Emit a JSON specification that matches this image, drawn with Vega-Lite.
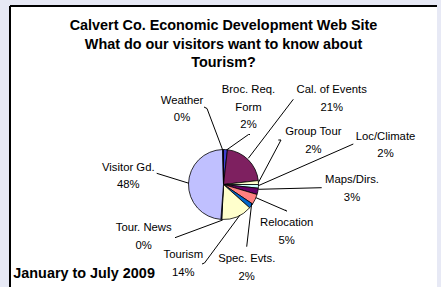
{
  "$schema": "https://vega.github.io/schema/vega-lite/v6.json",
  "width": 427,
  "height": 357,
  "autosize": "none",
  "padding": {"left": 10, "top": 6, "right": 4, "bottom": -76},
  "background": "#e7e9f5",
  "config": {
    "view": {"fill": "white", "stroke": null},
    "font": "Liberation Sans",
    "title": {"font": "Liberation Sans"}
  },
  "title": {
    "text": ["Calvert Co. Economic Development Web Site", "What do our visitors want to know about", "Tourism?"],
    "fontSize": 14.4,
    "fontWeight": "bold",
    "color": "black",
    "lineHeight": 18.5,
    "anchor": "middle",
    "offset": -64.5
  },
  "datasets": {
    "slices": [
      {"category": "Broc. Req. Form", "pct": 1.8, "order": 1},
      {"category": "Cal. of Events", "pct": 21.4, "order": 2},
      {"category": "Group Tour", "pct": 1.8, "order": 3},
      {"category": "Loc/Climate", "pct": 1.7, "order": 4},
      {"category": "Maps/Dirs.", "pct": 2.9, "order": 5},
      {"category": "Relocation", "pct": 4.8, "order": 6},
      {"category": "Spec. Evts.", "pct": 2.2, "order": 7},
      {"category": "Tourism", "pct": 14.2, "order": 8},
      {"category": "Tour. News", "pct": 0.4, "order": 9},
      {"category": "Visitor Gd.", "pct": 48.4, "order": 10},
      {"category": "Weather", "pct": 0.4, "order": 11}
    ],
    "labels": [
      {"category": "Weather", "text": ["Weather", "0%"], "lx": -41.5, "ly": -83.8},
      {"category": "Broc. Req. Form", "text": ["Broc. Req.", "Form", "2%"], "lx": 25, "ly": -94.5},
      {"category": "Cal. of Events", "text": ["Cal. of Events", "21%"], "lx": 108.2, "ly": -94.5},
      {"category": "Group Tour", "text": ["Group Tour", "2%"], "lx": 89.8, "ly": -52.2},
      {"category": "Loc/Climate", "text": ["Loc/Climate", "2%"], "lx": 162, "ly": -47.8},
      {"category": "Maps/Dirs.", "text": ["Maps/Dirs.", "3%"], "lx": 128.5, "ly": -4.5},
      {"category": "Relocation", "text": ["Relocation", "5%"], "lx": 63.2, "ly": 38.8},
      {"category": "Spec. Evts.", "text": ["Spec. Evts.", "2%"], "lx": 23.2, "ly": 74.5},
      {"category": "Tourism", "text": ["Tourism", "14%"], "lx": -40.2, "ly": 70.5},
      {"category": "Tour. News", "text": ["Tour. News", "0%"], "lx": -79.8, "ly": 43.8},
      {"category": "Visitor Gd.", "text": ["Visitor Gd.", "48%"], "lx": -95.2, "ly": -16.8}
    ],
    "leaders": [
      {"category": "Weather", "seq": 0, "lx": -19.5, "ly": -77.5},
      {"category": "Weather", "seq": 1, "lx": -16.5, "ly": -76},
      {"category": "Weather", "seq": 2, "lx": -0.8, "ly": -34.5},
      {"category": "Broc. Req. Form", "seq": 0, "lx": 26.5, "ly": -50},
      {"category": "Broc. Req. Form", "seq": 1, "lx": 25, "ly": -50},
      {"category": "Broc. Req. Form", "seq": 2, "lx": 3, "ly": -34.5},
      {"category": "Cal. of Events", "seq": 0, "lx": 69.8, "ly": -85.2},
      {"category": "Cal. of Events", "seq": 1, "lx": 24.8, "ly": -26.2},
      {"category": "Group Tour", "seq": 0, "lx": 54.8, "ly": -44.5},
      {"category": "Group Tour", "seq": 1, "lx": 57.5, "ly": -44.5},
      {"category": "Group Tour", "seq": 2, "lx": 34.8, "ly": -1.8},
      {"category": "Loc/Climate", "seq": 0, "lx": 129.8, "ly": -40.5},
      {"category": "Loc/Climate", "seq": 1, "lx": 34.8, "ly": 1.2},
      {"category": "Maps/Dirs.", "seq": 0, "lx": 98.2, "ly": 3.2},
      {"category": "Maps/Dirs.", "seq": 1, "lx": 34.8, "ly": 4.8},
      {"category": "Relocation", "seq": 0, "lx": 61.5, "ly": 25.5},
      {"category": "Relocation", "seq": 1, "lx": 63.2, "ly": 26.5},
      {"category": "Relocation", "seq": 2, "lx": 32.5, "ly": 13.2},
      {"category": "Spec. Evts.", "seq": 0, "lx": 23.2, "ly": 62.2},
      {"category": "Spec. Evts.", "seq": 1, "lx": 28.2, "ly": 18.8},
      {"category": "Tourism", "seq": 0, "lx": -21.5, "ly": 79.5},
      {"category": "Tourism", "seq": 1, "lx": -19, "ly": 78.5},
      {"category": "Tourism", "seq": 2, "lx": 16.5, "ly": 30.5},
      {"category": "Tour. News", "seq": 0, "lx": -48.5, "ly": 53.2},
      {"category": "Tour. News", "seq": 1, "lx": -0.8, "ly": 35.5},
      {"category": "Visitor Gd.", "seq": 0, "lx": -66.8, "ly": -11.2},
      {"category": "Visitor Gd.", "seq": 1, "lx": -34.5, "ly": -1.2}
    ],
    "notes": [
      {"text": "January to July 2009", "lx": -210.2, "ly": 89.5}
    ]
  },
  "layer": [
    {
      "data": {"name": "slices"},
      "mark": {"type": "arc", "outerRadius": 35, "stroke": "black", "strokeWidth": 0.8},
      "encoding": {
        "theta": {"field": "pct", "type": "quantitative", "stack": true},
        "order": {"field": "order", "type": "quantitative"},
        "color": {
          "field": "category",
          "type": "nominal",
          "legend": null,
          "scale": {
            "domain": ["Broc. Req. Form", "Cal. of Events", "Group Tour", "Loc/Climate", "Maps/Dirs.", "Relocation", "Spec. Evts.", "Tourism", "Tour. News", "Visitor Gd.", "Weather"],
            "range": ["#3f3fcf", "#7e2060", "#ffffcc", "#ccffff", "#660066", "#ff8080", "#0066cc", "#ffffcc", "#000080", "#c0c0ff", "#000040"]
          }
        }
      }
    },
    {
      "data": {"name": "leaders"},
      "mark": {"type": "line", "color": "black", "strokeWidth": 1},
      "encoding": {
        "x": {
          "field": "lx",
          "type": "quantitative",
          "scale": {"domain": [-213.5, 213.5], "nice": false, "zero": false},
          "axis": {
            "orient": "top",
            "values": [-213.5, 215.5],
            "grid": true,
            "gridColor": "black",
            "gridWidth": 2,
            "gridOpacity": 1,
            "ticks": false,
            "labels": false,
            "domain": false,
            "title": null,
            "translate": 0
          }
        },
        "y": {
          "field": "ly",
          "type": "quantitative",
          "scale": {"domain": [-178.5, 178.5], "nice": false, "zero": false, "reverse": true},
          "axis": {
            "values": [-178.5],
            "grid": true,
            "gridColor": "black",
            "gridWidth": 2,
            "gridOpacity": 1,
            "ticks": false,
            "labels": false,
            "domain": false,
            "title": null,
            "translate": 0
          }
        },
        "detail": {"field": "category"},
        "order": {"field": "seq", "type": "quantitative"}
      }
    },
    {
      "data": {"name": "labels"},
      "mark": {"type": "text", "fontSize": 11.3, "lineHeight": 17.6, "align": "center", "baseline": "middle", "color": "black"},
      "encoding": {
        "x": {"field": "lx", "type": "quantitative"},
        "y": {"field": "ly", "type": "quantitative"},
        "text": {"field": "text"}
      }
    },
    {
      "data": {"name": "notes"},
      "mark": {"type": "text", "fontSize": 14.4, "fontWeight": "bold", "align": "left", "baseline": "middle", "color": "black"},
      "encoding": {
        "x": {"field": "lx", "type": "quantitative"},
        "y": {"field": "ly", "type": "quantitative"},
        "text": {"field": "text"}
      }
    }
  ]
}
